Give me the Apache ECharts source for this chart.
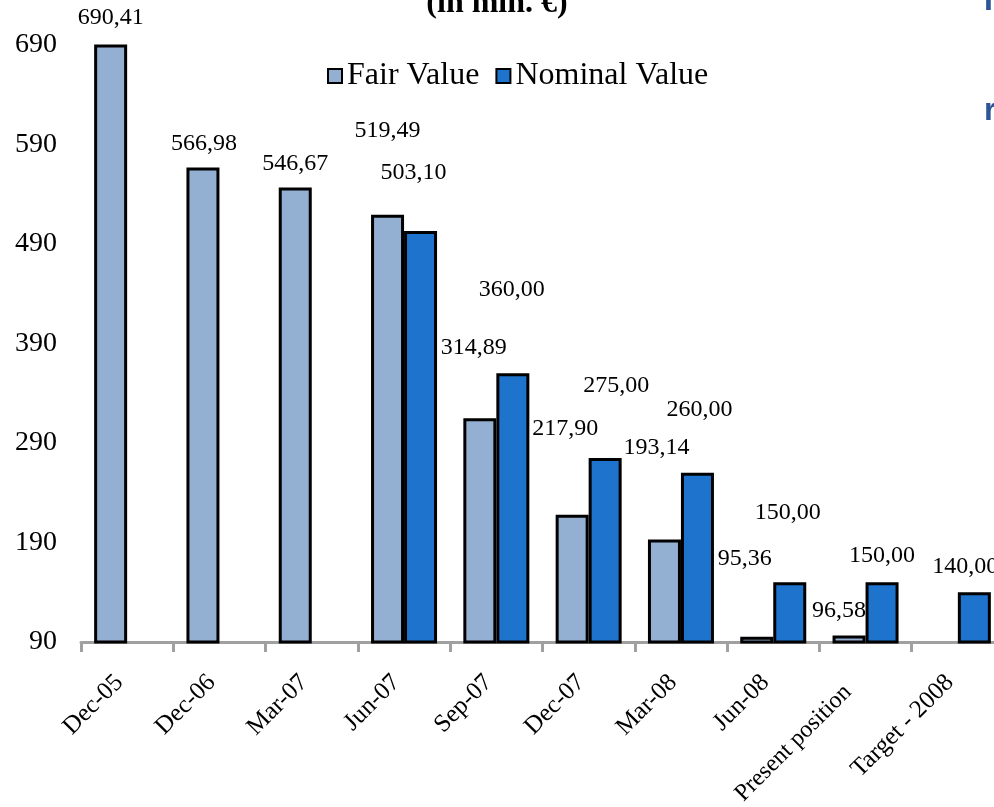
<!DOCTYPE html>
<html>
<head>
<meta charset="utf-8">
<title>Fair Value / Nominal Value</title>
<script src="https://cdn.jsdelivr.net/npm/echarts@6/dist/echarts.min.js"></script>
<style>
  html, body { margin: 0; padding: 0; background: #fff; }
  #bar-charts { width: 994px; height: 807px; }
</style>
</head>
<body>
<div id="bar-charts"></div>
<script>
// categories + values
var categories = ["Dec-05", "Dec-06", "Mar-07", "Jun-07", "Sep-07", "Dec-07", "Mar-08", "Jun-08", "Present position", "Target - 2008"];
var fairValue = [690.41, 566.98, 546.67, 519.49, 314.89, 217.90, 193.14, 95.36, 96.58, null];
var nominalValue = [null, null, null, 503.10, 360.00, 275.00, 260.00, 150.00, 150.00, 140.00];
var yTicks = [90, 190, 290, 390, 490, 590, 690];

// where each value label sits relative to the top of its bar (moved by hand in the original)
var fairLabelOffset = [[0, -27], [1, -24], [0, -24], [0, -84], [-6, -71], [-7, -86], [-8, -92], [-12, -78], [-10, -25], [0, 0]];
var nominalLabelOffset = [[0, 0], [0, 0], [0, 0], [-7, -58], [-1, -84], [11, -72], [2, -63], [-2, -70], [0, -27], [-9, -26]];

var serif = "'Liberation Serif', 'Times New Roman', serif";

function fmt(v) {
  return v.toFixed(2).replace(".", ",");
}

function withLabels(values, offsets) {
  return values.map(function (v, i) {
    if (v == null) return null;
    return { value: v, label: { offset: offsets[i] } };
  });
}

var myCharts = echarts.init(document.getElementById("bar-charts"));

var options = {
  animation: false,
  backgroundColor: "#fff",
  grid: {
    left: 81,
    top: 45,
    width: 923,
    height: 597,
    outerBoundsMode: "none"
  },
  legend: {
    data: ["Fair Value", "Nominal Value"],
    left: 327,
    top: 60,
    padding: 0,
    icon: "rect",
    itemWidth: 14,
    itemHeight: 14,
    itemGap: 16,
    textStyle: { fontFamily: serif, fontSize: 32, color: "#000" }
  },
  xAxis: {
    type: "category",
    data: categories,
    axisLine: { lineStyle: { color: "#a0a0a0", width: 3 } },
    axisTick: { show: true, length: 10, lineStyle: { color: "#a0a0a0", width: 3 } },
    axisLabel: {
      interval: 0,
      rotate: 45,
      margin: 29,
      padding: [0, 11, 0, 0],
      fontFamily: serif,
      fontSize: 25,
      color: "#000",
      formatter: function (v) {
        // the long label sits lower in the original
        return v === "Present position" ? "{p|" + v + "}" : v;
      },
      rich: {
        p: { fontFamily: serif, fontSize: 24, color: "#000", padding: [0, 14, 0, 0] }
      }
    }
  },
  yAxis: {
    type: "value",
    min: yTicks[0],
    max: yTicks[yTicks.length - 1],
    interval: yTicks[1] - yTicks[0],
    axisLine: { show: false },
    axisTick: { show: false },
    splitLine: { show: false },
    axisLabel: { margin: 24, fontFamily: serif, fontSize: 28, color: "#000" }
  },
  series: [
    {
      name: "Fair Value",
      type: "bar",
      barWidth: 33,
      barGap: "0%",
      data: withLabels(fairValue, fairLabelOffset),
      itemStyle: { color: "#93AFD2", borderColor: "#000", borderWidth: 3 },
      label: {
        show: true,
        position: "top",
        distance: 0,
        verticalAlign: "middle",
        fontFamily: serif,
        fontSize: 24,
        color: "#000",
        formatter: function (p) { return fmt(p.value); }
      }
    },
    {
      name: "Nominal Value",
      type: "bar",
      barWidth: 33,
      barGap: "0%",
      data: withLabels(nominalValue, nominalLabelOffset),
      itemStyle: { color: "#1E74CD", borderColor: "#000", borderWidth: 3 },
      label: {
        show: true,
        position: "top",
        distance: 0,
        verticalAlign: "middle",
        fontFamily: serif,
        fontSize: 24,
        color: "#000",
        formatter: function (p) { return fmt(p.value); }
      }
    }
  ],
  graphic: [
    {
      type: "text",
      x: 497,
      y: 20,
      style: {
        text: "(in mln. €)",
        font: "bold 32px " + serif,
        fill: "#000",
        align: "center",
        verticalAlign: "bottom",
        textAlign: "center",
        textVerticalAlign: "bottom"
      }
    },
    {
      type: "text",
      x: 984,
      y: 17,
      style: {
        text: "I",
        font: "bold 32px 'Liberation Sans', Arial, sans-serif",
        fill: "#2E5596",
        verticalAlign: "bottom",
        textVerticalAlign: "bottom"
      }
    },
    {
      type: "text",
      x: 984,
      y: 127,
      style: {
        text: "r",
        font: "bold 32px 'Liberation Sans', Arial, sans-serif",
        fill: "#2E5596",
        verticalAlign: "bottom",
        textVerticalAlign: "bottom"
      }
    }
  ]
};

myCharts.setOption(options);
</script>
</body>
</html>
